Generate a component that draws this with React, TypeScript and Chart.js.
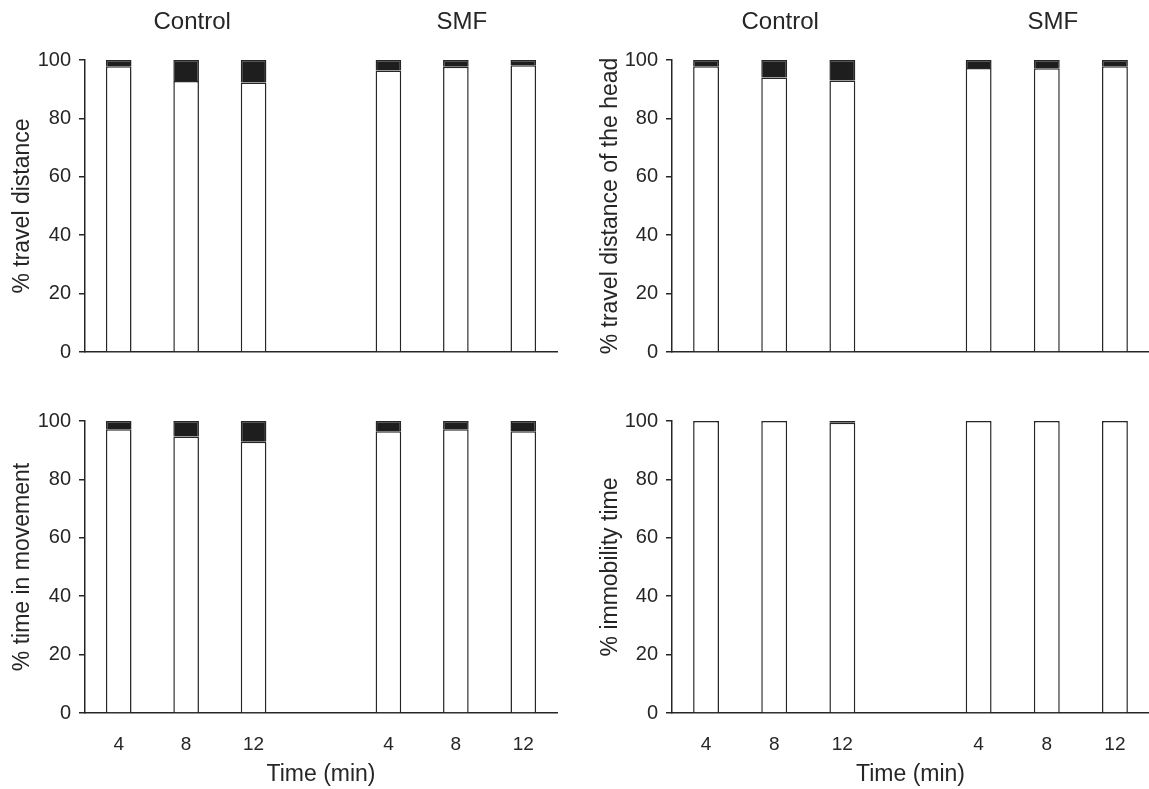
import React, { useEffect, useRef } from 'react';
import { Chart, registerables } from 'chart.js';

Chart.register(...registerables);

// ---- data ----
const timeLabels = ['4', '8', '12', '', '4', '8', '12'];
const groupNames = ['Control', 'SMF'];
const groupCenterIndex = [1, 5];
const yTickValues = [0, 20, 40, 60, 80, 100];

const travelWhite = [97.9, 92.8, 92.3, null, 96.4, 97.7, 98.2];
const travelDark = [2.1, 7.2, 7.7, null, 3.6, 2.3, 1.8];

const headWhite = [97.9, 94.0, 93.0, null, 97.3, 97.2, 97.9];
const headDark = [2.1, 6.0, 7.0, null, 2.7, 2.8, 2.1];

const moveWhite = [97.2, 94.7, 92.9, null, 96.5, 97.2, 96.5];
const moveDark = [2.8, 5.3, 7.1, null, 3.5, 2.8, 3.5];

const immobWhite = [100, 100, 99.4, null, 100, 100, 100];
const immobDark = [0, 0, 0.6, null, 0, 0, 0];

const FONT = "'Liberation Sans', Arial, sans-serif";
const INK = '#262626';

type PanelProps = {
  left: number;
  top: number;
  width: number;
  height: number;
  yTitle: string;
  white: (number | null)[];
  dark: (number | null)[];
  showX: boolean;
  showGroups: boolean;
  yWidth: number;
  padTop: number;
  padRight: number;
  xHeight: number;
  titlePad: number;
};

function Panel(p: PanelProps) {
  const ref = useRef<HTMLCanvasElement | null>(null);
  useEffect(() => {
    if (!ref.current) return;
    const groupPlugin = {
      id: 'groupLabels',
      afterDraw(chart: any) {
        if (!p.showGroups) return;
        const ctx = chart.ctx;
        const xs = chart.scales.x;
        ctx.save();
        ctx.font = `24px ${FONT}`;
        ctx.fillStyle = INK;
        ctx.textAlign = 'center';
        ctx.textBaseline = 'middle';
        groupNames.forEach((g, i) => {
          ctx.fillText(g, xs.getPixelForValue(groupCenterIndex[i]) + 6, 22);
        });
        ctx.restore();
      },
    };
    const chart = new Chart(ref.current, {
      type: 'bar',
      data: {
        labels: timeLabels,
        datasets: [
          {
            data: p.white as any,
            backgroundColor: '#ffffff',
            borderColor: INK,
            borderWidth: 1.5,
            categoryPercentage: 1,
            barPercentage: 0.38,
          },
          {
            data: p.dark as any,
            backgroundColor: '#1e1e1e',
            borderColor: INK,
            borderWidth: 1.5,
            categoryPercentage: 1,
            barPercentage: 0.38,
          },
        ],
      },
      options: {
        animation: false,
        responsive: false,
        maintainAspectRatio: false,
        layout: { padding: { top: p.padTop, right: p.padRight, left: 0, bottom: 0 } },
        plugins: { legend: { display: false }, tooltip: { enabled: false }, title: { display: false } },
        scales: {
          x: {
            stacked: true,
            grid: { display: false },
            border: { display: true, color: INK, width: 1.5 },
            ticks: {
              display: p.showX,
              color: INK,
              font: { family: FONT, size: 19 },
              padding: 12,
              maxRotation: 0,
              autoSkip: false,
            },
            title: {
              display: p.showX,
              text: 'Time (min)',
              color: INK,
              font: { family: FONT, size: 23 },
              padding: { top: 0, bottom: 1 },
            },
            afterFit(scale: any) {
              scale.height = p.xHeight;
            },
          },
          y: {
            stacked: true,
            min: 0,
            max: 100,
            afterBuildTicks(scale: any) {
              scale.ticks = yTickValues.map((v) => ({ value: v }));
            },
            grid: {
              display: true,
              drawOnChartArea: false,
              drawTicks: true,
              tickLength: 6,
              color: INK,
              lineWidth: 1.5,
            },
            border: { display: true, color: INK, width: 1.5 },
            ticks: {
              color: INK,
              font: { family: FONT, size: 20 },
              padding: 8,
            },
            title: {
              display: true,
              text: p.yTitle,
              color: INK,
              font: { family: FONT, size: 23 },
              padding: { top: p.titlePad, bottom: 0 },
            },
            afterFit(scale: any) {
              scale.width = p.yWidth;
            },
          },
        },
      },
      plugins: [groupPlugin],
    });
    return () => chart.destroy();
  }, []);
  return (
    <canvas
      ref={ref}
      width={p.width}
      height={p.height}
      style={{ position: 'absolute', left: p.left, top: p.top, width: p.width, height: p.height }}
    />
  );
}

export default function App() {
  return (
    <div style={{ position: 'absolute', left: 0, top: 0, width: 1149, height: 789, background: '#fff', overflow: 'hidden' }}>
      <Panel left={0} top={0} width={575} height={380} yTitle="% travel distance" white={travelWhite} dark={travelDark}
        showX={false} showGroups={true} yWidth={85} padTop={60} padRight={18} xHeight={28} titlePad={9} />
      <Panel left={575} top={0} width={574} height={380} yTitle="% travel distance of the head" white={headWhite} dark={headDark}
        showX={false} showGroups={true} yWidth={97} padTop={60} padRight={0} xHeight={28} titlePad={22} />
      <Panel left={0} top={380} width={575} height={409} yTitle="% time in movement" white={moveWhite} dark={moveDark}
        showX={true} showGroups={false} yWidth={85} padTop={41} padRight={18} xHeight={76} titlePad={9} />
      <Panel left={575} top={380} width={574} height={409} yTitle="% immobility time" white={immobWhite} dark={immobDark}
        showX={true} showGroups={false} yWidth={97} padTop={41} padRight={0} xHeight={76} titlePad={22} />
    </div>
  );
}
